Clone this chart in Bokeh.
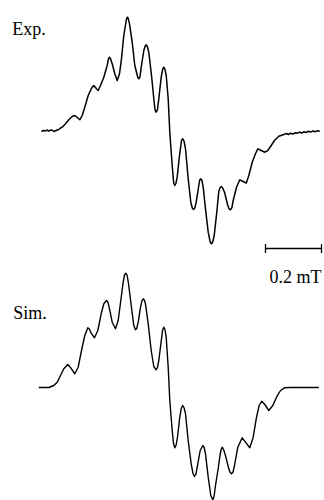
from bokeh.plotting import figure
from bokeh.models import Range1d
from bokeh.embed import file_html
from bokeh.resources import INLINE
from bokeh.core.properties import value

# ---- data: magnetic field offset (mT) and derivative intensity (a.u.) ----
exp_field = [0.0000, 0.0071, 0.0143, 0.0196, 0.0261, 0.0321, 0.0382, 0.0446, 0.0500, 0.0554,
             0.0618, 0.0679, 0.0739, 0.0857, 0.0975, 0.1096, 0.1189, 0.1275, 0.1368, 0.1454,
             0.1546, 0.1668, 0.1786, 0.1868, 0.1964, 0.2025, 0.2107, 0.2225, 0.2346, 0.2395,
             0.2429, 0.2465, 0.2525, 0.2618, 0.2704, 0.2786, 0.2857, 0.2939, 0.3025, 0.3050,
             0.3071, 0.3100, 0.3143, 0.3239, 0.3332, 0.3393, 0.3440, 0.3475, 0.3515, 0.3571,
             0.3654, 0.3700, 0.3739, 0.3780, 0.3832, 0.3929, 0.4011, 0.4055, 0.4096, 0.4140,
             0.4189, 0.4275, 0.4330, 0.4368, 0.4410, 0.4454, 0.4525, 0.4582, 0.4668, 0.4720,
             0.4761, 0.4800, 0.4846, 0.4929, 0.5000, 0.5046, 0.5090, 0.5143, 0.5239, 0.5332,
             0.5385, 0.5429, 0.5475, 0.5525, 0.5618, 0.5650, 0.5689, 0.5730, 0.5775, 0.5857,
             0.5954, 0.6025, 0.6071, 0.6120, 0.6168, 0.6261, 0.6332, 0.6380, 0.6418, 0.6470,
             0.6536, 0.6654, 0.6700, 0.6750, 0.6800, 0.6846, 0.6964, 0.7082, 0.7204, 0.7311,
             0.7404, 0.7525, 0.7643, 0.7725, 0.7846, 0.7975, 0.8082, 0.8204, 0.8321, 0.8475,
             0.8654, 0.8750, 0.8821, 0.8893, 0.8982, 0.9071, 0.9132, 0.9214, 0.9286, 0.9368,
             0.9446, 0.9536, 0.9607, 0.9696, 0.9786, 0.9857, 0.9939]
exp_signal = [-0.010, 0.000, -0.005, 0.005, -0.007, 0.005, 0.003, -0.010, -0.003, 0.005,
              0.010, 0.025, 0.033, 0.067, 0.107, 0.140, 0.150, 0.130, 0.107, 0.150,
              0.233, 0.350, 0.423, 0.450, 0.417, 0.400, 0.450, 0.533, 0.650, 0.718,
              0.733, 0.718, 0.667, 0.567, 0.500, 0.567, 0.717, 0.950, 1.100, 1.125,
              1.133, 1.118, 1.067, 0.883, 0.650, 0.583, 0.530, 0.517, 0.535, 0.650,
              0.800, 0.843, 0.857, 0.840, 0.783, 0.550, 0.317, 0.205, 0.183, 0.205,
              0.317, 0.533, 0.615, 0.633, 0.612, 0.550, 0.317, -0.017, -0.350, -0.525,
              -0.550, -0.530, -0.467, -0.250, -0.100, -0.083, -0.105, -0.183, -0.483, -0.717,
              -0.775, -0.790, -0.775, -0.717, -0.550, -0.495, -0.483, -0.500, -0.567, -0.783,
              -1.017, -1.115, -1.133, -1.110, -1.050, -0.817, -0.610, -0.570, -0.560, -0.575,
              -0.617, -0.750, -0.783, -0.793, -0.772, -0.700, -0.567, -0.493, -0.510, -0.527,
              -0.450, -0.317, -0.233, -0.183, -0.200, -0.217, -0.200, -0.150, -0.100, -0.057,
              -0.040, -0.030, -0.040, -0.027, -0.035, -0.022, -0.028, -0.016, -0.025, -0.013,
              -0.020, -0.008, -0.016, -0.005, -0.012, -0.002, -0.007]

sim_field = [-0.0096, 0.0261, 0.0439, 0.0561, 0.0679, 0.0796, 0.0939, 0.1071, 0.1189, 0.1311,
             0.1429, 0.1546, 0.1654, 0.1710, 0.1775, 0.1893, 0.2011, 0.2132, 0.2225, 0.2321,
             0.2375, 0.2429, 0.2525, 0.2643, 0.2739, 0.2832, 0.2918, 0.2965, 0.3011, 0.3060,
             0.3107, 0.3204, 0.3296, 0.3357, 0.3400, 0.3454, 0.3536, 0.3585, 0.3632, 0.3675,
             0.3714, 0.3811, 0.3918, 0.4011, 0.4096, 0.4140, 0.4189, 0.4286, 0.4325, 0.4368,
             0.4410, 0.4454, 0.4525, 0.4582, 0.4668, 0.4715, 0.4761, 0.4810, 0.4857, 0.4939,
             0.4995, 0.5046, 0.5095, 0.5143, 0.5239, 0.5346, 0.5410, 0.5464, 0.5515, 0.5561,
             0.5668, 0.5761, 0.5810, 0.5857, 0.5954, 0.6046, 0.6118, 0.6165, 0.6214, 0.6311,
             0.6375, 0.6415, 0.6454, 0.6510, 0.6571, 0.6689, 0.6740, 0.6786, 0.6840, 0.6893,
             0.7011, 0.7168, 0.7286, 0.7439, 0.7561, 0.7679, 0.7775, 0.7868, 0.7975, 0.8118,
             0.8261, 0.8393, 0.8536, 0.8679, 0.8893, 0.9904]
sim_signal = [0.000, 0.000, 0.020, 0.053, 0.120, 0.187, 0.230, 0.187, 0.137, 0.203,
              0.370, 0.520, 0.597, 0.585, 0.543, 0.497, 0.570, 0.737, 0.837, 0.870,
              0.852, 0.787, 0.653, 0.587, 0.670, 0.870, 1.053, 1.125, 1.143, 1.120,
              1.040, 0.820, 0.620, 0.577, 0.590, 0.653, 0.803, 0.865, 0.887, 0.872,
              0.837, 0.637, 0.370, 0.210, 0.177, 0.200, 0.270, 0.487, 0.575, 0.603,
              0.580, 0.503, 0.203, -0.130, -0.430, -0.560, -0.603, -0.575, -0.497, -0.297,
              -0.205, -0.180, -0.205, -0.263, -0.530, -0.763, -0.860, -0.890, -0.865, -0.797,
              -0.630, -0.580, -0.600, -0.663, -0.897, -1.080, -1.123, -1.085, -0.980, -0.810,
              -0.680, -0.620, -0.597, -0.625, -0.680, -0.813, -0.850, -0.863, -0.845, -0.780,
              -0.597, -0.503, -0.547, -0.603, -0.497, -0.297, -0.180, -0.137, -0.170, -0.230,
              -0.180, -0.097, -0.030, -0.003, 0.000, 0.000]

labels = ["Exp.", "Sim."]
scale_bar_mT = 0.2
scale_label = "0.2 mT"

assert len(exp_field) == len(exp_signal)
assert len(sim_field) == len(sim_signal)

# ---- layout constants ----
EXP_OFFSET = 3.70
SIM_OFFSET = 1.13
FONT = "Liberation Serif"

p = figure(width=324, height=500, output_backend="svg", toolbar_location=None,
           x_axis_type=None, y_axis_type=None, min_border=0,
           x_range=Range1d(-0.1464, 1.0107), y_range=Range1d(0, 5))
p.outline_line_color = None
p.xgrid.visible = False
p.ygrid.visible = False
p.background_fill_color = "white"
p.border_fill_color = "white"

p.line(exp_field, [v + EXP_OFFSET for v in exp_signal], line_color="black",
       line_width=1.5, line_join="round")
p.line(sim_field, [v + SIM_OFFSET for v in sim_signal], line_color="black",
       line_width=1.4, line_join="round")

p.text(x=[-0.1046], y=[4.717], text=[labels[0]], text_font=value(FONT),
       text_font_size="18px", text_color="black", text_baseline="alphabetic")
p.text(x=[-0.1011], y=[1.873], text=[labels[1]], text_font=value(FONT),
       text_font_size="18px", text_color="black", text_baseline="alphabetic")

# scale bar
bar_start = 0.8
bar_y = 2.52
p.segment(x0=[bar_start], y0=[bar_y], x1=[bar_start + scale_bar_mT], y1=[bar_y],
          line_color="black", line_width=1.3)
p.segment(x0=[bar_start, bar_start + scale_bar_mT], y0=[bar_y - 0.045, bar_y - 0.045],
          x1=[bar_start, bar_start + scale_bar_mT], y1=[bar_y + 0.045, bar_y + 0.045],
          line_color="black", line_width=1.3)
p.text(x=[bar_start + scale_bar_mT / 2 + 0.007], y=[2.24], text=[scale_label],
       text_font=value(FONT), text_font_size="18px", text_color="black",
       text_align="center", text_baseline="alphabetic")

open("out.html", "w").write(file_html(p, INLINE))
